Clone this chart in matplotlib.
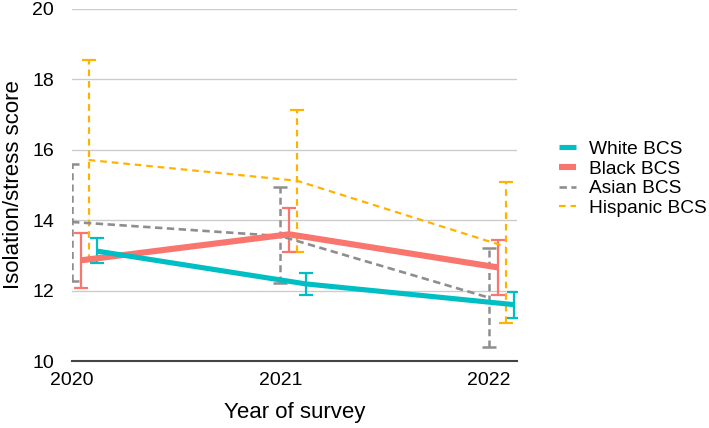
import matplotlib.pyplot as plt
import numpy as np

plt.rcParams['font.family'] = ['Liberation Sans', 'DejaVu Sans']

years = [2020, 2021, 2022]
groups = ['White BCS', 'Black BCS', 'Asian BCS', 'Hispanic BCS']

white_mean = [13.12, 12.19, 11.60]
white_lo = [12.78, 11.87, 11.23]
white_hi = [13.49, 12.50, 11.95]

black_mean = [12.86, 13.60, 12.66]
black_lo = [12.07, 13.10, 11.88]
black_hi = [13.63, 14.35, 13.44]

asian_mean = [13.95, 13.55, 11.80]
asian_lo = [12.27, 12.22, 10.41]
asian_hi = [15.60, 14.95, 13.20]

hisp_mean = [15.71, 15.12, 13.25]
hisp_lo = [12.85, 13.10, 11.09]
hisp_hi = [18.55, 17.13, 15.08]

colors = {'White BCS': '#00BFC4', 'Black BCS': '#F8766D',
          'Asian BCS': '#8E8E8E', 'Hispanic BCS': '#FFB300'}

fig = plt.figure(figsize=(7.09, 4.28), dpi=100)
ax = fig.add_axes([0.1016, 0.1565, 0.6274, 0.8225])

x = np.array(years, dtype=float)

series = [
    ('Asian BCS', asian_mean, asian_lo, asian_hi, 0.0, (0, (2.8, 1.7)), 1.9, 1.8),
    ('Hispanic BCS', hisp_mean, hisp_lo, hisp_hi, 0.08, (0, (3.0, 2.2)), 1.6, 1.6),
    ('Black BCS', black_mean, black_lo, black_hi, 0.042, '-', 4.4, 1.6),
    ('White BCS', white_mean, white_lo, white_hi, 0.122, '-', 3.7, 1.6),
]

handles = {}
for name, m, lo, hi, dx, ls, lw, elw in series:
    m = np.array(m)
    yerr = [m - np.array(lo), np.array(hi) - m]
    xs = x + dx
    eb = ax.errorbar(xs, m, yerr=yerr, fmt='none', ecolor=colors[name],
                     elinewidth=elw, capsize=5, capthick=elw, zorder=3)
    if ls != '-':
        eb[2][0].set_linestyle(ls)
    ln, = ax.plot(xs, m, color=colors[name], lw=lw, ls=ls, zorder=4,
                  solid_capstyle='butt')
    handles[name] = ln

ax.set_xlim(2020, 2022.134)
ax.set_ylim(10, 20)
ax.set_yticks([10, 12, 14, 16, 18, 20])
ax.set_xticks(years)
ax.set_xticklabels([str(y) for y in years])
ax.grid(axis='y', color='#CCCCCC', lw=1)
ax.set_axisbelow(True)
for s in ['top', 'right', 'left']:
    ax.spines[s].set_visible(False)
ax.spines['bottom'].set_color('#444444')
ax.spines['bottom'].set_linewidth(1.5)
ax.tick_params(length=0, labelsize=14)
ax.tick_params(axis='y', pad=13)
ax.tick_params(axis='x', pad=8)
ax.set_xlabel('Year of survey', fontsize=16, labelpad=9)
ax.set_ylabel('Isolation/stress score', fontsize=16, labelpad=6)

ax.legend([handles[g] for g in groups], groups, loc='upper left',
          bbox_to_anchor=(1.078, 0.648), frameon=False, fontsize=13.8,
          handlelength=0.9, handletextpad=0.65, labelspacing=0.12,
          borderaxespad=0)

fig.savefig('out.png', dpi=100)
